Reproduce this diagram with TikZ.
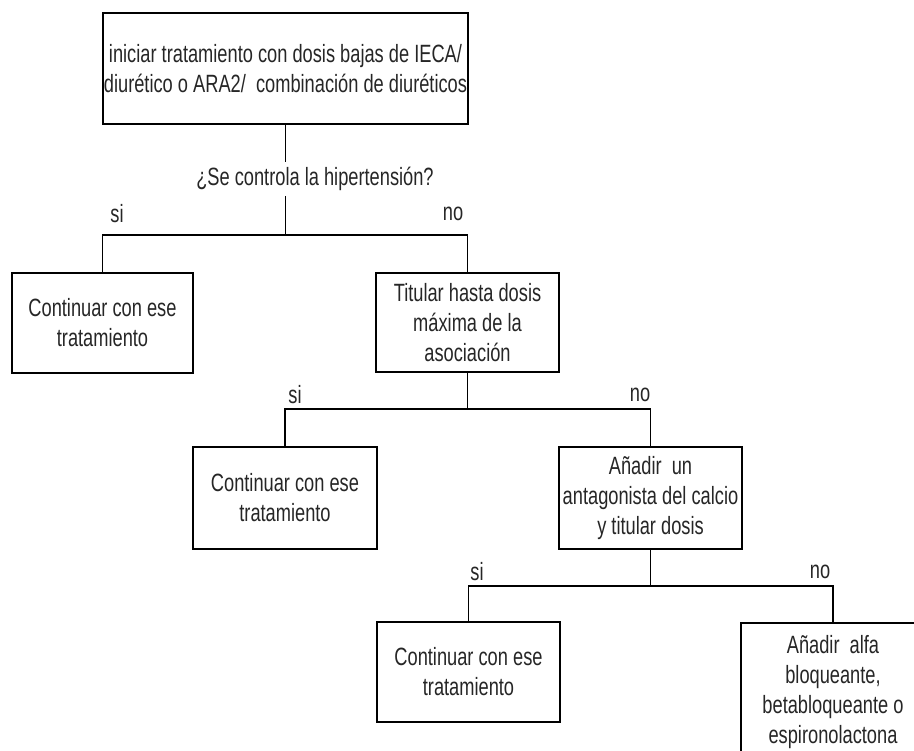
\documentclass[tikz,border=0pt]{standalone}
\usepackage{fontspec}
\setmainfont{Liberation Sans}[FakeStretch=0.73]
\usepackage{tikz}

\begin{document}
\begin{tikzpicture}[x=1pt, y=-1pt]
\tikzset{box/.style={draw, line width=1.3pt, align=center, inner sep=0pt, text=black!85, font=\fontsize{25}{30}\selectfont},
 lbl/.style={inner sep=0pt, text=black!85, font=\fontsize{25}{30}\selectfont},
 link/.style={line width=1.3pt}}
 \useasboundingbox (0,0) rectangle (914,751);
 \clip (0,0) rectangle (914,751);
 \node[box, minimum width=365pt, minimum height=111pt] (top) at (285.5,68.5) {iniciar tratamiento con dosis bajas de IECA/\\diurético o ARA2/ \ combinación de diuréticos};
 \node[lbl, inner ysep=5pt] (ques) at (315,179) {¿Se controla la hipertensión?};
 \node[box, minimum width=181pt, minimum height=100pt] (cont1) at (102.5,323) {Continuar con ese\\tratamiento};
 \node[box, minimum width=183pt, minimum height=99pt] (titular) at (467.5,322.5) {Titular hasta dosis\\máxima de la\\asociación};
 \node[box, minimum width=184pt, minimum height=102pt] (cont2) at (285,498) {Continuar con ese\\tratamiento};
 \node[box, minimum width=183pt, minimum height=102pt] (antag) at (650.5,498) {Añadir \ un\\antagonista del calcio\\y titular dosis};
 \node[box, minimum width=183pt, minimum height=100pt] (cont3) at (468.5,672) {Continuar con ese\\tratamiento};
 \node[box, minimum width=184pt, minimum height=138pt] (alfa) at (833,692) {Añadir \ alfa\\bloqueante,\\betabloqueante o\\espironolactona};
 \coordinate (b1) at (285.5,235);
 \coordinate (b2) at (467.5,409);
 \coordinate (b3) at (650.5,586);
 \draw[link] (top.south) -- (top.south |- ques.north);
 \draw[link] (top.south |- ques.south) -- (b1);
 \draw[link] (cont1.north) |- (b1) -| (titular.north);
 \draw[link] (titular) -- (b2);
 \draw[link] (cont2.north) |- (b2) -| (antag.north);
 \draw[link] (antag) -- (b3);
 \draw[link] (cont3.north) |- (b3) -| (alfa.north);
 \node[lbl] (si1) at (117,214) {si};
 \node[lbl] (no1) at (453,214) {no};
 \node[lbl] (si2) at (295,395) {si};
 \node[lbl] (no2) at (640,395) {no};
 \node[lbl] (si3) at (477,572) {si};
 \node[lbl] (no3) at (820,572) {no};
\end{tikzpicture}
\end{document}
